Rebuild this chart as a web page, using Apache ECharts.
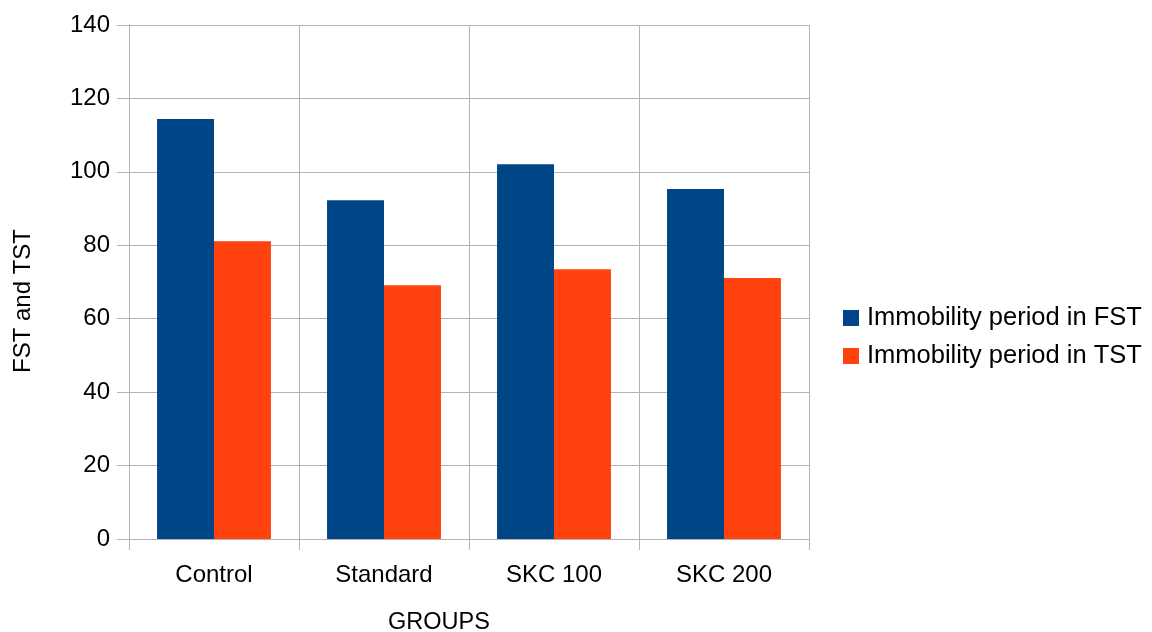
<!DOCTYPE html>
<html>
<head>
<meta charset="utf-8">
<script src="https://cdn.jsdelivr.net/npm/echarts@6/dist/echarts.min.js"></script>
<style>
  html, body { margin: 0; padding: 0; background: #fff; }
  #chart { width: 1152px; height: 632px; }
</style>
</head>
<body>
<div id="chart"></div>
<script>
// Groups along the x axis
const categories = ['Control', 'Standard', 'SKC 100', 'SKC 200'];
// Immobility periods per group
const fstValues = [114.4, 92.3, 102.1, 95.3];
const tstValues = [81.1, 69.1, 73.5, 71.1];
const seriesNames = ['Immobility period in FST', 'Immobility period in TST'];

const chart = echarts.init(document.getElementById('chart'));
const font = 'Liberation Sans, Arial, sans-serif';
const gridColor = '#b3b3b3';

chart.setOption({
  animation: false,
  textStyle: { fontFamily: font },
  grid: {
    left: 129, right: 343, top: 25, bottom: 93,
    containLabel: false,
    outerBoundsMode: 'none'
  },
  legend: {
    orient: 'vertical',
    left: 843,
    top: 305,
    padding: 0,
    itemWidth: 16,
    itemHeight: 16,
    itemGap: 12,
    icon: 'rect',
    textStyle: { fontSize: 25.5, lineHeight: 26, color: '#000', fontFamily: font, padding: [0, 0, 0, 3] },
    data: seriesNames
  },
  xAxis: {
    type: 'category',
    data: categories,
    name: 'GROUPS',
    nameLocation: 'middle',
    nameGap: 72,
    nameTextStyle: { fontSize: 23.5, color: '#000', fontFamily: font, padding: [0, 60, 0, 0] },
    axisLine: { lineStyle: { color: gridColor } },
    axisTick: { show: true, length: 11, lineStyle: { color: gridColor } },
    axisLabel: { fontSize: 24, color: '#000', margin: 24, fontFamily: font },
    splitLine: { show: true, lineStyle: { color: gridColor } }
  },
  yAxis: {
    type: 'value',
    min: 0,
    max: 140,
    interval: 20,
    name: 'FST and TST',
    nameLocation: 'middle',
    nameGap: 94,
    nameTextStyle: { fontSize: 24, color: '#000', fontFamily: font, padding: [0, 38, 0, 0] },
    axisLine: { show: true, lineStyle: { color: gridColor } },
    axisTick: { show: true, length: 12, lineStyle: { color: gridColor } },
    axisLabel: { fontSize: 24, color: '#000', margin: 19, fontFamily: font },
    splitLine: { show: true, lineStyle: { color: gridColor } }
  },
  series: [
    {
      name: seriesNames[0],
      type: 'bar',
      data: fstValues,
      itemStyle: { color: '#004586' },
      barGap: '0%',
      barCategoryGap: '33%'
    },
    {
      name: seriesNames[1],
      type: 'bar',
      data: tstValues,
      itemStyle: { color: '#ff420e' }
    }
  ]
});
</script>
</body>
</html>
